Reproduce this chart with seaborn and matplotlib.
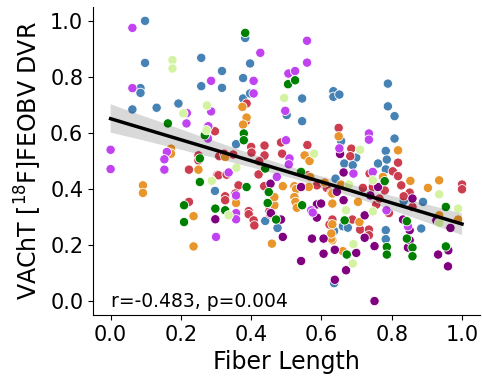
import numpy as np
import pandas as pd
import seaborn as sns
import matplotlib.pyplot as plt

# puntos, por grupo de color
blue_x = [0.098, 0.098, 0.258, 0.258, 0.085, 0.085, 0.062, 0.131, 0.193, 0.383, 0.397, 0.317, 0.377, 0.317, 0.377, 0.397,
          0.545, 0.501, 0.545, 0.357, 0.634, 0.634, 0.651, 0.789, 0.789, 0.808, 0.808, 0.656, 0.783, 0.699, 0.786, 0.665,
          0.689, 0.761, 0.783, 0.640, 0.297, 0.834, 0.889, 0.661, 0.675, 0.636, 0.636, 0.783, 0.783, 0.884, 0.440, 0.475]
blue_y = [1.000, 0.850, 0.868, 0.767, 0.760, 0.743, 0.684, 0.690, 0.705, 0.939, 0.848, 0.821, 0.796, 0.761, 0.723, 0.741,
          0.723, 0.664, 0.642, 0.560, 0.749, 0.729, 0.737, 0.776, 0.695, 0.660, 0.580, 0.571, 0.536, 0.512, 0.505, 0.491,
          0.485, 0.491, 0.470, 0.437, 0.393, 0.357, 0.354, 0.267, 0.262, 0.250, 0.064, 0.253, 0.221, 0.259, 0.286, 0.261]

red_x = [0.297, 0.387, 0.385, 0.400, 0.438, 0.485, 0.560, 0.649, 0.685, 0.250, 0.223, 0.304, 0.223, 0.401, 0.438, 0.488,
         0.561, 0.250, 0.309, 0.323, 0.349, 0.423, 0.421, 0.307, 0.330, 0.364, 0.355, 0.437, 0.561, 0.599, 0.615, 0.682,
         0.818, 0.803, 0.818, 0.737, 0.827, 1.000, 1.000, 0.718, 0.746, 0.780, 0.851, 0.834, 0.859, 0.792, 0.756, 0.765,
         0.688, 0.710, 0.735, 0.735, 0.631, 0.326, 0.326, 0.357, 0.393, 0.393, 0.407, 0.409, 0.452, 0.452, 0.454, 0.623,
         0.587]
red_y = [0.606, 0.705, 0.642, 0.550, 0.555, 0.566, 0.557, 0.618, 0.544, 0.520, 0.469, 0.451, 0.354, 0.530, 0.520, 0.526,
         0.518, 0.502, 0.517, 0.526, 0.523, 0.499, 0.452, 0.449, 0.451, 0.413, 0.384, 0.410, 0.449, 0.419, 0.404, 0.517,
         0.494, 0.463, 0.446, 0.455, 0.413, 0.416, 0.399, 0.404, 0.407, 0.395, 0.387, 0.374, 0.336, 0.314, 0.344, 0.366,
         0.291, 0.255, 0.255, 0.235, 0.291, 0.374, 0.360, 0.369, 0.321, 0.310, 0.288, 0.270, 0.338, 0.321, 0.310, 0.273,
         0.413]

orange_x = [0.172, 0.172, 0.092, 0.092, 0.250, 0.236, 0.236, 0.375, 0.387, 0.377, 0.649, 0.818, 0.552, 0.566, 0.326, 0.490,
            0.523, 0.528, 0.568, 0.564, 0.609, 0.628, 0.775, 0.853, 0.903, 0.935, 0.656, 0.989, 0.704, 0.708, 0.631, 0.631,
            0.661, 0.935, 0.357, 0.452, 0.466, 0.523, 0.526, 0.530, 0.459, 0.628, 0.466, 0.628, 0.631, 0.631]
orange_y = [0.544, 0.526, 0.413, 0.386, 0.469, 0.303, 0.195, 0.693, 0.655, 0.630, 0.588, 0.538, 0.520, 0.500, 0.514, 0.410,
            0.410, 0.400, 0.443, 0.407, 0.423, 0.387, 0.443, 0.429, 0.404, 0.431, 0.416, 0.291, 0.354, 0.282, 0.274, 0.217,
            0.178, 0.306, 0.350, 0.350, 0.342, 0.371, 0.354, 0.333, 0.205, 0.223, 0.371, 0.241, 0.384, 0.348]

purple_x = [0.298, 0.653, 0.663, 0.761, 0.455, 0.542, 0.859, 0.739, 0.723, 0.723, 0.638, 0.699, 0.670, 0.638, 0.751, 0.751,
            0.832, 0.851, 0.846, 0.851, 0.927, 0.967, 0.961, 0.932, 0.960, 0.485, 0.490, 0.456, 0.587, 0.599, 0.587, 0.573,
            0.606, 0.606, 0.542, 0.644, 0.663]
purple_y = [0.292, 0.525, 0.459, 0.407, 0.419, 0.407, 0.366, 0.377, 0.306, 0.226, 0.183, 0.172, 0.110, 0.076, 0.000, 0.196,
            0.291, 0.253, 0.191, 0.217, 0.288, 0.261, 0.181, 0.166, 0.124, 0.291, 0.229, 0.314, 0.345, 0.348, 0.298, 0.223,
            0.223, 0.169, 0.143, 0.390, 0.360]

magenta_x = [0.062, 0.286, 0.062, 0.217, 0.286, 0.216, 0.278, 0.277, 0.000, 0.000, 0.160, 0.153, 0.153, 0.300, 0.559, 0.426,
             0.559, 0.407, 0.506, 0.525, 0.407, 0.497, 0.499, 0.735, 0.735, 0.651, 0.509, 0.336, 0.473, 0.691, 0.746, 0.785,
             0.846, 0.507, 0.357, 0.357, 0.357, 0.571, 0.575]
magenta_y = [0.975, 0.786, 0.760, 0.671, 0.677, 0.634, 0.624, 0.580, 0.540, 0.471, 0.532, 0.506, 0.469, 0.229, 0.929, 0.886,
             0.851, 0.786, 0.812, 0.821, 0.741, 0.679, 0.574, 0.598, 0.576, 0.545, 0.509, 0.459, 0.443, 0.455, 0.461, 0.324,
             0.267, 0.488, 0.377, 0.314, 0.292, 0.324, 0.316]

green_x = [0.163, 0.268, 0.383, 0.505, 0.525, 0.379, 0.379, 0.254, 0.254, 0.209, 0.209, 0.298, 0.440, 0.387, 0.542, 0.780,
           0.954, 0.666, 0.672, 0.786, 0.786, 0.843, 0.843, 0.859, 0.859, 0.954, 0.326, 0.471, 0.450, 0.545, 0.447]
green_y = [0.634, 0.592, 0.957, 0.774, 0.788, 0.598, 0.574, 0.509, 0.425, 0.342, 0.282, 0.330, 0.473, 0.407, 0.461, 0.428,
           0.336, 0.288, 0.166, 0.193, 0.166, 0.285, 0.223, 0.191, 0.160, 0.195, 0.324, 0.291, 0.389, 0.342, 0.350]

lgreen_x = [0.176, 0.176, 0.207, 0.274, 0.494, 0.273, 0.579, 0.358, 0.288, 0.710, 0.746, 0.678, 0.935, 0.989, 0.746, 0.670,
            0.691, 0.689, 0.935, 0.336]
lgreen_y = [0.860, 0.830, 0.670, 0.698, 0.725, 0.610, 0.526, 0.476, 0.429, 0.540, 0.431, 0.416, 0.381, 0.330, 0.320, 0.324,
            0.203, 0.134, 0.279, 0.306]

colores = {'blue': '#4682b4', 'red': '#cb3d4f', 'orange': '#e8952b', 'purple': '#800080',
           'magenta': '#c043ef', 'green': '#008000', 'lgreen': '#d4f3a2'}

grupos = [('blue', blue_x, blue_y), ('red', red_x, red_y), ('orange', orange_x, orange_y),
          ('purple', purple_x, purple_y), ('magenta', magenta_x, magenta_y),
          ('green', green_x, green_y), ('lgreen', lgreen_x, lgreen_y)]
df = pd.concat([pd.DataFrame({'x': gx, 'y': gy, 'grupo': g}) for g, gx, gy in grupos], ignore_index=True)

fig = plt.figure(figsize=(4.82, 3.81), dpi=100)
ax = fig.add_axes([0.193, 0.173, 0.802, 0.809])

sns.scatterplot(data=df, x='x', y='y', hue='grupo', palette=colores, s=45,
                edgecolor='white', linewidth=0.6, legend=False, ax=ax)
sns.regplot(data=df, x='x', y='y', scatter=False, color='black',
            line_kws={'linewidth': 2.5}, ax=ax)

ax.set_xlim(-0.05, 1.05)
ax.set_ylim(-0.05, 1.05)
ax.set_xticks(np.arange(0, 1.01, 0.2))
ax.set_yticks(np.arange(0, 1.01, 0.2))
ax.tick_params(labelsize=15)
ax.set_xlabel('Fiber Length', fontsize=17)
ax.set_ylabel('VAChT [$^{18}$F]FEOBV DVR', fontsize=17)
ax.text(0.0, 0.0, 'r=-0.483, p=0.004', fontsize=13.5, va='center', ha='left')
sns.despine(ax=ax)

plt.savefig('out.png', dpi=100)
